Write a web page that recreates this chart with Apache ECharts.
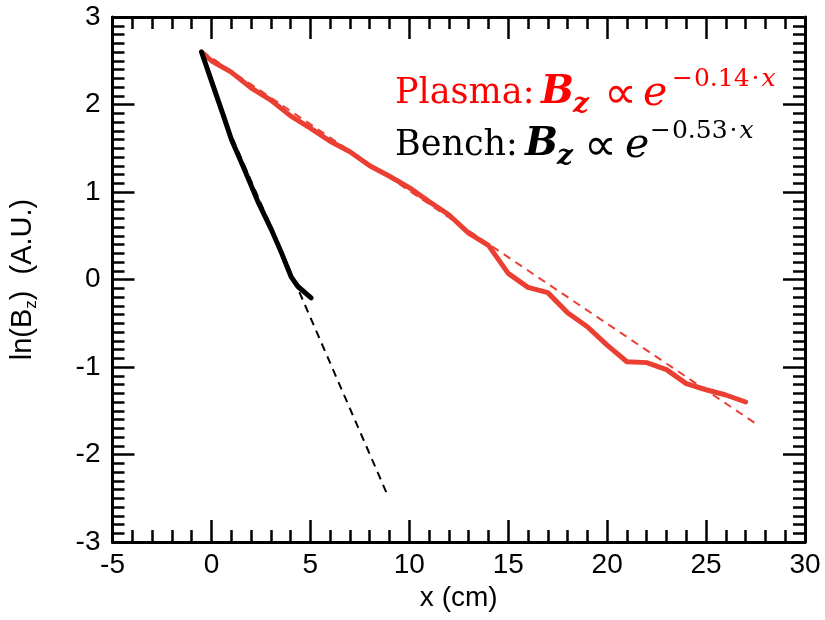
<!DOCTYPE html>
<html><head><meta charset="utf-8">
<script src="https://cdn.jsdelivr.net/npm/echarts@6/dist/echarts.min.js"></script>
<style>html,body{margin:0;padding:0;background:#fff}#c{width:825px;height:620px}</style>
</head><body><div id="c"></div>
<script>
// ---- data ----
const plasmaX = [-0.5,0,1,2,3,4,5,6,7,8,9,10,11,12,13,14,15,16,17,18,19,20,21,22,23,24,25,26,27];
const plasmaY = [2.60,2.50,2.37,2.19,2.05,1.87,1.73,1.58,1.46,1.30,1.18,1.05,0.89,0.74,0.53,0.39,0.07,-0.09,-0.15,-0.38,-0.54,-0.75,-0.94,-0.95,-1.03,-1.19,-1.26,-1.32,-1.40];
const benchX = [-0.5,0,0.67,1.01,1.68,2.35,3.03,3.53,4.03,4.37,5.04];
const benchY = [2.60,2.27,1.83,1.60,1.25,0.89,0.57,0.31,0.03,-0.08,-0.21];
const plasmaFitX = [-0.5,27.6];
const plasmaFitY = [2.61,-1.66];
const benchFitX = [0.5,8.95];
const benchFitY = [1.91,-2.49];
const xTickLabels = ['-5','0','5','10','15','20','25','30'];
const yTickLabels = ['-3','-2','-1','0','1','2','3'];
const xName = 'x (cm)';
const plasmaRate = '0.14';
const benchRate = '0.53';

const zip = (a,b) => a.map((v,i)=>[v,b[i]]);
const RED = '#ea3f32';
const SANS = '"Liberation Sans", Arial, sans-serif';
const SERIF = '"DejaVu Serif", serif';

function axisCommon(showLabel, splits) {
  return {
    axisLine:{show:true,onZero:false,lineStyle:{color:'#000',width:3}},
    axisTick:{show:true,inside:true,length:22,lineStyle:{color:'#000',width:2.5}},
    minorTick:{show:true,splitNumber:splits,length:12,lineStyle:{color:'#000',width:2.5}},
    splitLine:{show:false},
    axisLabel:{show:showLabel,color:'#000',fontSize:28,fontFamily:SANS}
  };
}
const xMin = Number(xTickLabels[0]), xMax = Number(xTickLabels[xTickLabels.length-1]);
const yMin = Number(yTickLabels[0]), yMax = Number(yTickLabels[yTickLabels.length-1]);

const option = {
  animation:false,
  backgroundColor:'#fff',
  grid:{left:111,right:20,top:17,bottom:78},
  xAxis:[
    Object.assign({type:'value',position:'bottom',min:xMin,max:xMax,interval:5,
      name:xName,nameLocation:'middle',nameGap:40,
      nameTextStyle:{color:'#000',fontSize:28,fontFamily:SANS}}, axisCommon(true,5),
      {axisLabel:{show:true,color:'#000',fontSize:28,fontFamily:SANS,margin:9}}),
    Object.assign({type:'value',position:'top',min:xMin,max:xMax,interval:5}, axisCommon(false,5))
  ],
  yAxis:[
    Object.assign({type:'value',position:'left',min:yMin,max:yMax,interval:1,
      name:'{n|ln(B}{s|z}{n|)  (A.U.)}',nameLocation:'middle',nameGap:73,nameRotate:90,
      nameTextStyle:{color:'#000',fontSize:29,fontFamily:SANS,
        rich:{n:{fontSize:29,fontFamily:SANS,color:'#000',lineHeight:34},
              s:{fontSize:17,fontFamily:SANS,color:'#000',lineHeight:17,verticalAlign:'bottom'}}}},
      axisCommon(true,10),
      {axisLabel:{show:true,color:'#000',fontSize:28,fontFamily:SANS,margin:12}}),
    Object.assign({type:'value',position:'right',min:yMin,max:yMax,interval:1}, axisCommon(false,10))
  ],
  series:[
    {type:'line',data:zip(benchFitX,benchFitY),showSymbol:false,
      lineStyle:{color:'#000',width:2,type:[8,6]},z:2},
    {type:'line',data:zip(plasmaFitX,plasmaFitY),showSymbol:false,
      lineStyle:{color:RED,width:2,type:[8,6]},z:2},
    {type:'line',data:zip(plasmaX,plasmaY),showSymbol:false,
      lineStyle:{color:RED,width:5,join:'round',cap:'round'},z:3},
    {type:'line',data:zip(benchX,benchY),showSymbol:false,
      lineStyle:{color:'#000',width:5,join:'round',cap:'round'},z:4}
  ],
  graphic:[]
};

function eqn(label, rate, color, x0, baseline, bx, ax, ex, sx) {
  const mid = baseline - 11;
  return [
    {type:'text',x:x0,y:mid,style:{text:label,fontFamily:SERIF,fontSize:35,fill:color,verticalAlign:'middle'}},
    {type:'text',x:bx,y:mid-1,style:{text:'B',fontFamily:SERIF,fontSize:39,fontWeight:'bold',fontStyle:'italic',fill:color,verticalAlign:'middle'}},
    {type:'text',x:bx+32,y:mid+11,style:{text:'z',fontFamily:SERIF,fontSize:28,fontWeight:'bold',fontStyle:'italic',fill:color,verticalAlign:'middle'}},
    {type:'text',x:ax-2,y:mid+2,style:{text:'\u221D',fontFamily:'"DejaVu Sans", sans-serif',fontSize:46,fill:color,verticalAlign:'middle'}},
    {type:'text',x:ex,y:mid,style:{text:'e',fontFamily:SERIF,fontSize:41,fontStyle:'italic',fill:color,verticalAlign:'middle'}},
    {type:'text',x:sx,y:mid-15,style:{text:'{m|\u2212}{d|'+rate+'}{o|\u00B7}{i|x}',verticalAlign:'middle',
      rich:{m:{fontFamily:SERIF,fontSize:25,fill:color,padding:[0,1,0,0]},
            d:{fontFamily:SERIF,fontSize:25,fill:color},
            o:{fontFamily:SERIF,fontSize:25,fill:color,padding:[0,2,0,2]},
            i:{fontFamily:SERIF,fontSize:25,fontStyle:'italic',fill:color}}}}
  ];
}
option.graphic = [].concat(
  eqn('Plasma:', plasmaRate, '#ff0000', 395, 105, 541, 606, 643, 672),
  eqn('Bench:', benchRate, '#000000', 395, 157, 525, 586, 625, 650)
);

const chart = echarts.init(document.getElementById('c'),null,{renderer:'canvas'});
chart.setOption(option);
</script></body></html>
